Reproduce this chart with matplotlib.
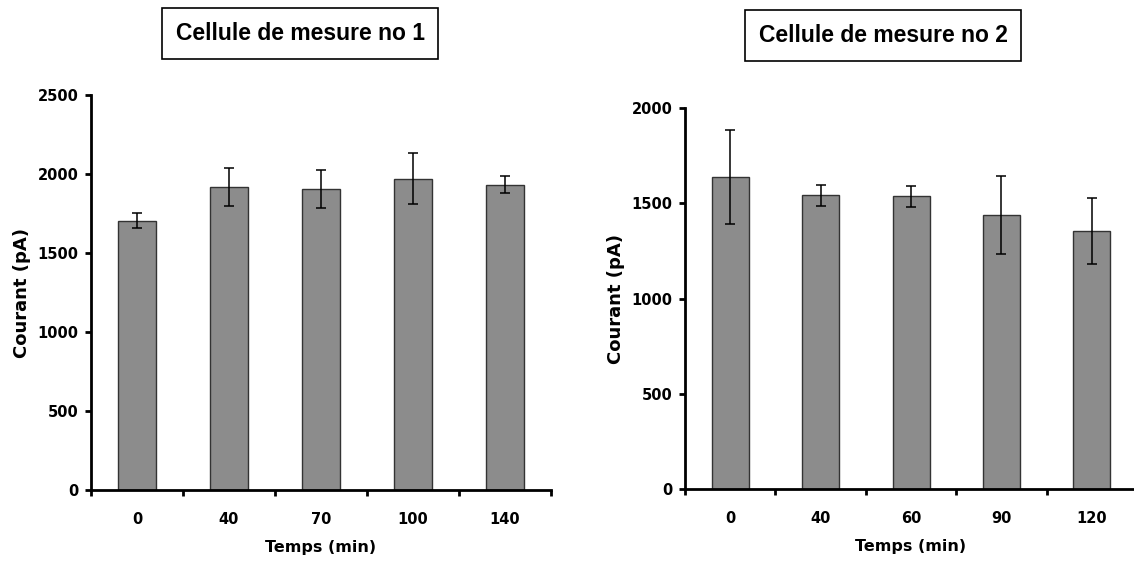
import numpy as np
import matplotlib.pyplot as plt

# cellule 1
temps1 = ['0', '40', '70', '100', '140']
courant1 = [1705, 1918, 1907, 1971, 1931]
err1 = [47, 122, 120, 163, 54]

# cellule 2
temps2 = ['0', '40', '60', '90', '120']
courant2 = [1637, 1543, 1536, 1437, 1355]
err2 = [247, 55, 55, 204, 172]

bar_color = '#8c8c8c'
tick_font = {'family': 'DejaVu Sans', 'weight': 'bold', 'size': 10.5}


def draw(ax, labels, vals, errs, ymax):
    x = np.arange(len(labels))
    ax.bar(x, vals, width=0.41, color=bar_color, edgecolor='#333333', linewidth=1.0, zorder=2)
    ax.errorbar(x, vals, yerr=errs, fmt='none', ecolor='black', elinewidth=1.1,
                capsize=3.5, capthick=1.1, zorder=3)
    ax.set_xlim(-0.5, len(labels) - 0.5)
    ax.set_ylim(0, ymax)
    ax.set_yticks(np.arange(0, ymax + 1, 500))
    ax.set_xticks(x)
    ax.set_xticklabels(labels, fontdict=tick_font)
    ax.set_yticklabels([str(v) for v in np.arange(0, ymax + 1, 500)], fontdict=tick_font)
    ax.set_xticks(np.arange(-0.5, len(labels), 1.0), minor=True)
    ax.tick_params(axis='x', which='major', length=0, pad=16)
    ax.tick_params(axis='x', which='minor', length=4, width=2, direction='out')
    ax.tick_params(axis='y', length=4, width=2, direction='out', pad=5)
    for s in ['top', 'right']:
        ax.spines[s].set_visible(False)
    for s in ['left', 'bottom']:
        ax.spines[s].set_linewidth(2)
    ax.set_xlabel('Temps (min)', fontsize=11.5, fontweight='bold', labelpad=9)
    ax.set_ylabel('Courant (pA)', fontsize=13, fontweight='bold', labelpad=5)


fig = plt.figure(figsize=(11.34, 5.65), dpi=100)
ax1 = fig.add_axes([0.0802, 0.1327, 0.4056, 0.6991])
ax2 = fig.add_axes([0.6041, 0.1345, 0.3986, 0.6743])

draw(ax1, temps1, courant1, err1, 2500)
draw(ax2, temps2, courant2, err2, 2000)

box = dict(boxstyle='square,pad=0.6', facecolor='white', edgecolor='black', linewidth=1.2)
fig.text(0.2646, 0.941, 'Cellule de mesure no 1', ha='center', va='center',
         fontsize=16.5, fontweight='bold', family='Liberation Sans', bbox=box)
fig.text(0.7787, 0.937, 'Cellule de mesure no 2', ha='center', va='center',
         fontsize=16.5, fontweight='bold', family='Liberation Sans', bbox=box)

plt.savefig('out.png', dpi=100)
